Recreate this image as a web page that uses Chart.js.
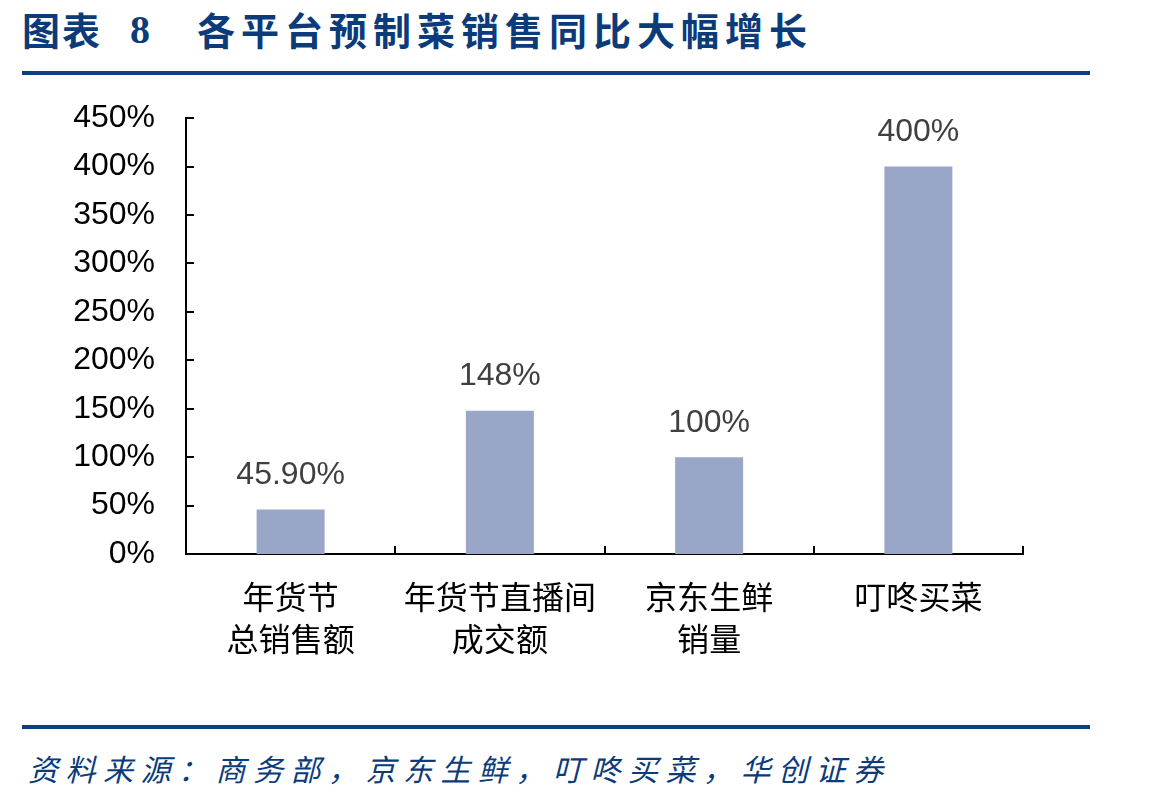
<!DOCTYPE html>
<html>
<head>
<meta charset="utf-8">
<script src="https://cdn.jsdelivr.net/npm/chart.js@4"></script>
<style>
  html, body { margin:0; padding:0; background:#fff; }
  body { width:1149px; height:803px; position:relative; overflow:hidden; }
  .title { position:absolute; top:1px; font-family:"Noto Sans CJK SC"; font-weight:700; font-size:38px; color:#0c3b7a; white-space:nowrap; }
  .rule { position:absolute; left:22px; width:1068px; height:4px; background:#0f3f80; }
  .source { position:absolute; left:28px; top:746px; font-family:"Noto Sans CJK SC"; font-style:italic; font-size:30px; letter-spacing:7.5px; color:#0c3b7a; white-space:nowrap; }
  #wrap { position:absolute; left:0; top:68px; width:1149px; height:622px; }
</style>
</head>
<body>
<div class="title" style="left:22px; letter-spacing:2px;">图表</div>
<div class="title" style="left:130px; top:6px; font-size:40px; font-family:'Liberation Serif', serif;">8</div>
<div class="title" style="left:197px; letter-spacing:6px;">各平台预制菜销售同比大幅增长</div>
<div class="rule" style="top:71px;"></div>
<div id="wrap"><canvas id="c"></canvas></div>
<div class="rule" style="top:725px;"></div>
<div class="source">资料来源：商务部，京东生鲜，叮咚买菜，华创证券</div>
<script>
// categories and YoY growth (%) per platform
const categories = [['年货节', '总销售额'], ['年货节直播间', '成交额'], ['京东生鲜', '销量'], ['叮咚买菜']];
const growth = [45.9, 148, 100, 400];
const growthLabels = ['45.90%', '148%', '100%', '400%'];
const yMax = 450, yStep = 50;

// inner tick marks + value labels
const extras = {
  id: 'extras',
  afterDraw(chart){
    const ctx = chart.ctx, x = chart.scales.x, y = chart.scales.y, a = chart.chartArea;
    ctx.save();
    ctx.strokeStyle = '#000'; ctx.lineWidth = 2;
    ctx.beginPath();
    for (let v = 0; v <= yMax; v += yStep){
      const py = Math.round(y.getPixelForValue(v));
      ctx.moveTo(a.left, py); ctx.lineTo(a.left + 8, py);
    }
    const half = (x.getPixelForValue(1) - x.getPixelForValue(0)) / 2;
    for (let i = 0; i < categories.length; i++){
      const px = Math.round(x.getPixelForValue(i) + half);
      ctx.moveTo(px, a.bottom); ctx.lineTo(px, a.bottom - 8);
    }
    ctx.stroke();
    ctx.fillStyle = '#404040';
    ctx.font = '32px "Liberation Sans", Arial, sans-serif';
    ctx.textAlign = 'center'; ctx.textBaseline = 'middle';
    chart.getDatasetMeta(0).data.forEach((bar, i) => {
      ctx.fillText(growthLabels[i], bar.x, bar.y - 34);
    });
    ctx.restore();
  }
};

new Chart(document.getElementById('c').getContext('2d'), {
  type: 'bar',
  data: { labels: categories, datasets: [{ data: growth, backgroundColor: '#9aa6c8', categoryPercentage: 1, barPercentage: 0.325 }] },
  options: {
    responsive: true, maintainAspectRatio: false, animation: false,
    layout: { padding: { top: 4, right: 126, left: 0, bottom: 0 } },
    plugins: { legend: { display: false }, tooltip: { enabled: false } },
    scales: {
      x: {
        grid: { display: false, drawTicks: false },
        border: { color: '#000', width: 2 },
        ticks: { color: '#000', padding: 22, font: { family: '"Noto Sans CJK SC"', size: 32, lineHeight: 1.3 }, maxRotation: 0, autoSkip: false },
        afterFit(s){ s.height = 136; }
      },
      y: {
        min: 0, max: yMax,
        grid: { display: false, drawTicks: false },
        border: { color: '#000', width: 2 },
        ticks: { stepSize: yStep, color: '#000', padding: 31, font: { family: '"Liberation Sans", Arial, sans-serif', size: 32 }, callback: v => v + '%' },
        afterFit(s){ s.width = 186; }
      }
    }
  },
  plugins: [extras]
});
</script>
</body>
</html>
